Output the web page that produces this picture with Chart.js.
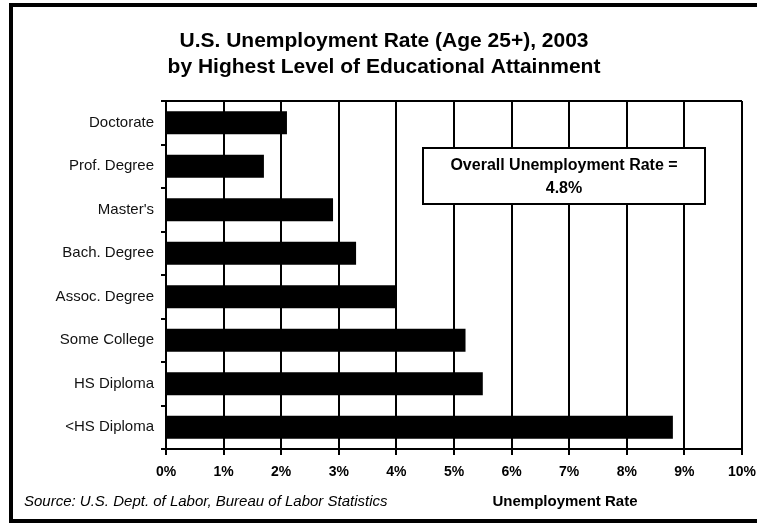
<!DOCTYPE html>
<html>
<head>
<meta charset="utf-8">
<script src="https://cdn.jsdelivr.net/npm/chart.js@4/dist/chart.umd.min.js"></script>
<style>
  html, body { margin: 0; padding: 0; background: #fff; }
  #wrap { width: 757px; height: 526px; position: relative; }
</style>
</head>
<body>
<div id="wrap"><canvas id="c" width="757" height="526"></canvas></div>
<script>
// Unemployment rate (%) by highest level of education, 2003
const categories = ['Doctorate', 'Prof. Degree', "Master's", 'Bach. Degree', 'Assoc. Degree', 'Some College', 'HS Diploma', '<HS Diploma'];
const rates = [2.1, 1.7, 2.9, 3.3, 4.0, 5.2, 5.5, 8.8];
const overallRate = 4.8;
const titleLines = ['U.S. Unemployment Rate (Age 25+), 2003', 'by Highest Level of Educational Attainment'];
const xAxisTitle = 'Unemployment Rate';
const sourceNote = 'Source: U.S. Dept. of Labor, Bureau of Labor Statistics';
const overallLines = ['Overall Unemployment Rate =', overallRate.toFixed(1) + '%'];

const INK = '#000';
const SANS = '"Liberation Sans", Arial, Helvetica, sans-serif';

// Frame, titles, source note, axis title and the overall-rate callout
const decorations = {
  id: 'decorations',
  afterDraw(chart) {
    const ctx = chart.ctx;
    const a = chart.chartArea;
    ctx.save();

    // outer frame
    ctx.strokeStyle = INK;
    ctx.lineWidth = 4;
    ctx.beginPath();
    ctx.moveTo(770, 5);
    ctx.lineTo(11, 5);
    ctx.lineTo(11, 521);
    ctx.lineTo(770, 521);
    ctx.stroke();

    // top edge of the plot area
    ctx.lineWidth = 2;
    ctx.beginPath();
    ctx.moveTo(a.left, a.top);
    ctx.lineTo(a.right, a.top);
    ctx.stroke();

    // title
    ctx.fillStyle = INK;
    ctx.textAlign = 'center';
    ctx.textBaseline = 'middle';
    ctx.font = 'bold 21px ' + SANS;
    ctx.fillText(titleLines[0], 384, 41);
    ctx.fillText(titleLines[1], 384, 67);

    // x axis title
    ctx.font = 'bold 15px ' + SANS;
    ctx.fillText(xAxisTitle, 565, 502);

    // source note
    ctx.textAlign = 'left';
    ctx.font = 'italic 15px ' + SANS;
    ctx.fillText(sourceNote, 24, 502);

    // overall-rate callout box
    const bx = 423, by = 148, bw = 282, bh = 56;
    ctx.fillStyle = '#fff';
    ctx.fillRect(bx, by, bw, bh);
    ctx.strokeStyle = INK;
    ctx.lineWidth = 2;
    ctx.strokeRect(bx, by, bw, bh);
    ctx.fillStyle = INK;
    ctx.textAlign = 'center';
    ctx.font = 'bold 16px ' + SANS;
    ctx.fillText(overallLines[0], bx + bw / 2, 166);
    ctx.fillText(overallLines[1], bx + bw / 2, 189);

    ctx.restore();
  }
};

new Chart(document.getElementById('c'), {
  type: 'bar',
  data: {
    labels: categories,
    datasets: [{
      data: rates,
      backgroundColor: INK,
      borderWidth: 0,
      barPercentage: 0.53,
      categoryPercentage: 1.0
    }]
  },
  options: {
    indexAxis: 'y',
    responsive: false,
    animation: false,
    devicePixelRatio: 1,
    layout: { padding: { top: 101, left: 0, right: 15, bottom: 47 } },
    plugins: {
      legend: { display: false },
      title: { display: false },
      tooltip: { enabled: false }
    },
    scales: {
      x: {
        min: 0,
        max: 10,
        ticks: {
          stepSize: 1,
          color: INK,
          padding: 9,
          font: { family: SANS, size: 14, weight: 'bold' },
          callback: v => v + '%'
        },
        grid: { color: INK, lineWidth: 2, tickLength: 6, drawTicks: true },
        border: { display: true, color: INK, width: 2 },
        afterFit(scale) {
          scale.height = 30;
          scale.paddingLeft = 0;
          scale.paddingRight = 0;
        }
      },
      y: {
        ticks: {
          color: '#111',
          padding: 7,
          font: { family: SANS, size: 15 }
        },
        grid: { drawOnChartArea: false, drawTicks: true, tickLength: 5, color: INK, lineWidth: 2, offset: true },
        border: { display: true, color: INK, width: 2 },
        afterFit(scale) {
          scale.width = 166;
          scale.paddingTop = 0;
          scale.paddingBottom = 0;
        }
      }
    }
  },
  plugins: [decorations]
});
</script>
</body>
</html>
